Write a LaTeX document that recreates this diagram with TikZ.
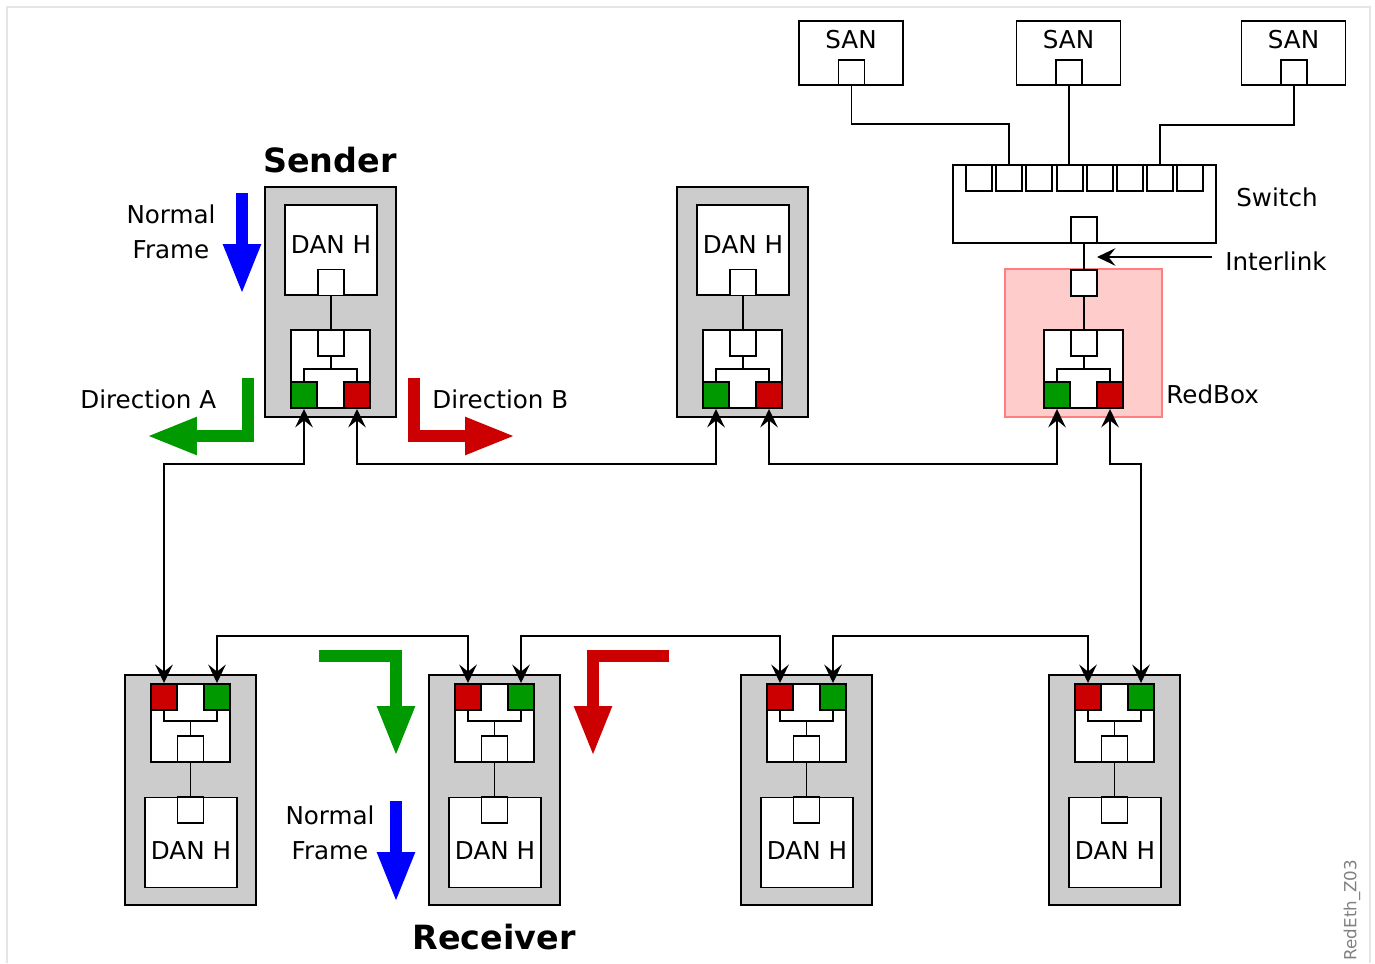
\documentclass[tikz,border=0pt]{standalone}
\usepackage{fontspec}
\setmainfont{DejaVu Sans}
\usetikzlibrary{arrows.meta,positioning,calc}
\definecolor{portgreen}{HTML}{009900}
\definecolor{portred}{HTML}{CC0000}
\definecolor{framegray}{HTML}{CCCCCC}
\definecolor{boxpink}{HTML}{FFCCCC}
\definecolor{boxpinkline}{HTML}{FF7F7F}

\tikzset{
  every node/.style={font=\fontsize{14}{20}\selectfont},
  device/.style={draw,fill=framegray,line width=1.1pt,minimum width=2.62cm,minimum height=4.6cm,inner sep=0pt},
  host/.style={draw,fill=white,line width=1.1pt,minimum width=1.84cm,minimum height=1.8cm,inner sep=0pt},
  lre/.style={draw,fill=white,line width=1.1pt,minimum width=1.58cm,minimum height=1.56cm,inner sep=0pt},
  port/.style={draw,fill=white,line width=1.1pt,minimum size=0.52cm,inner sep=0pt},
  gport/.style={port,fill=portgreen},
  rport/.style={port,fill=portred},
  link/.style={line width=1.1pt},
  ring/.style={link,{Stealth[length=10.5pt,width=10pt,inset=4pt]}-{Stealth[length=10.5pt,width=10pt,inset=4pt]}},
  bigarrow/.style={line width=7.2pt,line join=miter,-{Triangle[length=29pt,width=19.5pt]}},
  title/.style={font=\bfseries\fontsize{19}{22}\selectfont}
}

\begin{document}
\begin{tikzpicture}[x=0.02cm,y=-0.02cm]
    \useasboundingbox (0,0) rectangle (1375,963);
    \draw[gray!20,line width=1.2pt] (7,963) -- (7,7) -- (1370,7) -- (1370,963);

    % DANs on top (sender and second one)
    \foreach \n/\x in {1/330.5,2/742.5} {
        \node[device] (s\n) at (\x,302) {};
        \node[host] (sh\n) at (\x+0.5,250) {};
        \node (sht\n) at (\x+0.5,245) {DAN H};
        \node[port] (shp\n) at (\x+0.5,282.5) {};
        \node[lre] (sl\n) at (\x,369) {};
        \node[port] (slp\n) at (\x+0.5,343) {};
        \node[gport] (sg\n) at (\x-26.5,395) {};
        \node[rport] (sr\n) at (\x+26.5,395) {};
        \draw[link] (shp\n.south) -- (slp\n.north);
        \draw[link] (slp\n.south) -- ++(0,12);
        \draw[link] (sg\n.north) |- ($(slp\n.south)+(0,12)$) -| (sr\n.north);
    }

    % DANs at the bottom
    \foreach \n/\x in {1/190.5,2/494.5,3/806.5,4/1114.5} {
        \node[device] (r\n) at (\x,790) {};
        \node[lre] (rl\n) at (\x,723) {};
        \node[rport] (rr\n) at (\x-26.5,697) {};
        \node[gport] (rg\n) at (\x+26.5,697) {};
        \node[port] (rlp\n) at (\x,749) {};
        \node[host] (rh\n) at (\x+0.5,842.5) {};
        \node (rht\n) at (\x+0.5,851) {DAN H};
        \node[port] (rhp\n) at (\x,810) {};
        \draw[link] (rlp\n.north) -- ++(0,-14);
        \draw[link] (rr\n.south) |- ($(rlp\n.north)+(0,-14)$) -| (rg\n.south);
        \draw[link] (rlp\n.south) -- (rhp\n.north);
    }

    % RedBox
    \node[draw=boxpinkline,fill=boxpink,line width=1pt,minimum width=3.14cm,minimum height=2.96cm,inner sep=0pt] (rb) at (1083.5,343) {};
    \node[port] (rbp) at (1084,283) {};
    \node[lre] (rbl) at (1083.5,369) {};
    \node[port] (rblp) at (1084,343) {};
    \node[gport] (rbg) at (1057,395) {};
    \node[rport] (rbr) at (1110,395) {};
    \draw[link] (rbp.south) -- (rblp.north);
    \draw[link] (rblp.south) -- ++(0,12);
    \draw[link] (rbg.north) |- ($(rblp.south)+(0,12)$) -| (rbr.north);
    \node[anchor=west,inner sep=0pt] (rblabel) at (1166,394) {RedBox};

    % Switch and SANs
    \node[draw,fill=white,line width=1.1pt,minimum width=5.26cm,minimum height=1.56cm,inner sep=0pt] (sw) at (1084.5,204) {};
    \foreach \i in {1,...,8} {
        \node[port] (swp\i) at ({979+30.2*(\i-1)},178) {};
    }
    \node[port] (swb) at (1084,230) {};
    \node[anchor=west,inner sep=0pt] (swlabel) at (1236,197) {Switch};
    \foreach \n/\x in {1/851,2/1068.5,3/1293.5} {
        \node[draw,line width=1.1pt,minimum width=2.08cm,minimum height=1.28cm,inner sep=0pt] (san\n) at (\x,53) {};
        \node (sant\n) at (\x,40) {SAN};
        \node[port,minimum height=0.5cm] (sanp\n) at (\x+0.5,72.5) {};
    }
    \draw[link] (sanp1.south) -- (sanp1.south |- 0,124) -| (swp2.north);
    \draw[link] (sanp2.south) -- (sanp2.south |- swp4.north);
    \draw[link] (sanp3.south) -- (sanp3.south |- 0,125) -| (swp7.north);

    % Interlink
    \draw[link] (swb.south) -- (rbp.north);
    \node[anchor=west,inner sep=0pt] (il) at (1225,261) {Interlink};
    \coordinate (iltip) at (1097,257);
    \draw[link,-{Stealth[length=10.5pt,width=10pt,inset=4pt]}] (il.west) ++(-13,-4) -- (iltip);

    % Ring
    \draw[ring] (sg1.south) -- ++(0,55) -| (rr1.north);
    \draw[ring] (sr1.south) -- ++(0,55) -| (sg2.south);
    \draw[ring] (sr2.south) -- ++(0,55) -| (rbg.south);
    \draw[ring] (rbr.south) -- ++(0,55) -| (rg4.north);
    \foreach \a/\b in {1/2,2/3,3/4} {
        \draw[ring] (rg\a.north) -- ++(0,-47) -| (rr\b.north);
    }

    % Frame directions
    \draw[bigarrow,blue] (242,193) -- (242,295);
    \draw[bigarrow,portgreen] (248,378) -- (248,436) -- (146,436);
    \draw[bigarrow,portred] (414,378) -- (414,436) -- (516,436);
    \draw[bigarrow,portgreen] (319,656) -- (396,656) -- (396,757);
    \draw[bigarrow,portred] (669,656) -- (593,656) -- (593,757);
    \draw[bigarrow,blue] (396,801) -- (396,903);

    % Labels
    \node[align=center] (nf1) at (171,232) {Normal\\Frame};
    \node[align=center] (nf2) at (330,833) {Normal\\Frame};
    \node[anchor=west,inner sep=0pt] (dira) at (80,399) {Direction A};
    \node[anchor=west,inner sep=0pt] (dirb) at (432,399) {Direction B};
    \node[title] (sender) at (330,160) {Sender};
    \node[title] (receiver) at (494,937) {Receiver};
    \node[rotate=90,text=gray,font=\fontsize{9.5}{11}\selectfont] (figid) at (1352,910) {RedEth\_Z03};
\end{tikzpicture}
\end{document}
